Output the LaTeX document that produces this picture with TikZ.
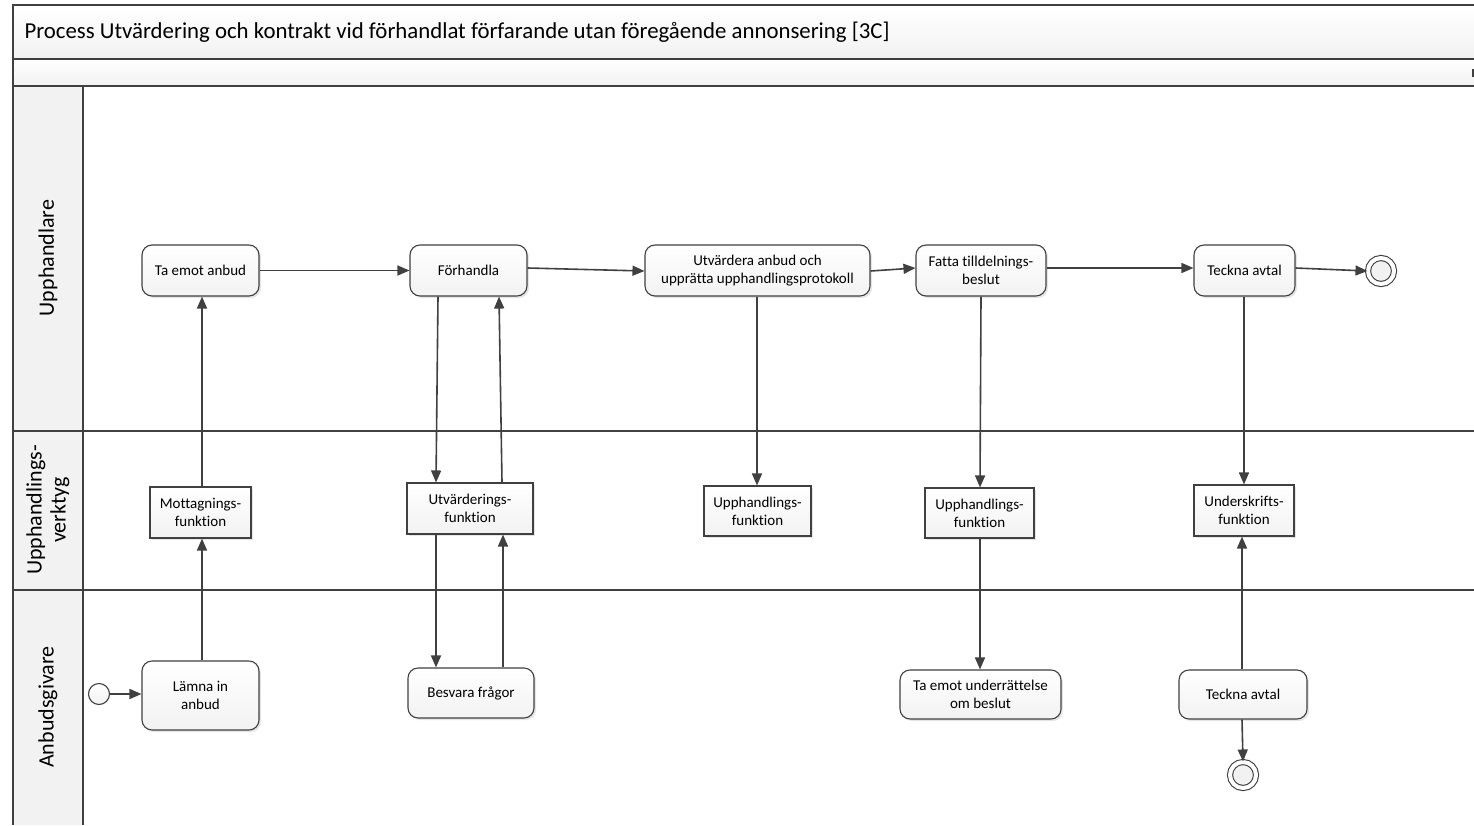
\documentclass[tikz,border=0pt]{standalone}
\usepackage{fontspec}
\setmainfont{Carlito}[Ligatures=NoCommon]
\usetikzlibrary{arrows.meta,shadows}
\definecolor{edge}{HTML}{404040}
\definecolor{band}{HTML}{F2F2F2}
\begin{document}
\begin{tikzpicture}[x=1pt,y=-1pt,
  task/.style={draw=edge, line width=1.1pt, rounded corners=10pt, top color=white, bottom color=band,
    drop shadow={opacity=0.2, shadow xshift=2pt, shadow yshift=-2pt},
    align=center, font=\fontsize{15}{18}\selectfont, inner sep=0pt},
  tool/.style={draw=edge, line width=1.1pt, top color=white, bottom color=band,
    drop shadow={opacity=0.2, shadow xshift=2pt, shadow yshift=-2pt},
    align=center, font=\fontsize{15}{18}\selectfont, inner sep=0pt},
  startev/.style={circle, draw=edge, line width=1.1pt, top color=white, bottom color=band, minimum size=21pt, inner sep=0pt},
  endev/.style={circle, draw=edge, line width=1.1pt, double=white, double distance=4pt, fill=band,
    drop shadow={opacity=0.2, shadow xshift=2pt, shadow yshift=-2pt}, minimum size=26pt, inner sep=0pt},
  flow/.style={draw=edge, line width=1.6pt, -{Triangle[length=12pt,width=10pt]}},
  lanelabel/.style={rotate=90, align=center, font=\fontsize{22}{24}\selectfont}
]
\useasboundingbox (0,0) rectangle (1474,825);
% pool frame, title and header bands
\fill[white] (0,0) rectangle (1474,825);
\shade[top color=white, bottom color=band] (13,5) rectangle (1474,59);
\shade[top color=white, bottom color=band] (13,59) rectangle (1474,86);
\fill[band] (13,86) rectangle (83,825);
\draw[edge, line width=1.6pt] (1474,5) -- (13,5) -- (13,825);
\draw[edge, line width=1.6pt] (13,59) -- (1474,59);
\draw[edge, line width=1.6pt] (13,86) -- (1474,86);
\draw[edge, line width=1.1pt] (83,86) -- (83,825);
\draw[edge, line width=1.1pt] (13,431) -- (1474,431);
\draw[edge, line width=1.1pt] (13,590) -- (1474,590);
\fill[edge] (1472,69) rectangle (1476,77);
\node[anchor=west, font=\fontsize{22.8}{26}\selectfont] (title) at (21,32.5)
  {Process Utvärdering och kontrakt vid förhandlat förfarande utan föregående annonsering [3C]};
% lane labels
\node[lanelabel] (l1) at (48,258) {Upphandlare};
\node[lanelabel] (l2) at (48,510) {Upphandlings-\\verktyg};
\node[lanelabel] (l3) at (48,707) {Anbudsgivare};
% Upphandlare
\node[task, minimum width=117pt, minimum height=51pt] (a1) at (200.5,270.5) {Ta emot anbud};
\node[task, minimum width=117pt, minimum height=51pt] (a2) at (468.5,270.5) {Förhandla};
\node[task, minimum width=225pt, minimum height=51pt] (a3) at (757.5,270.5) {Utvärdera anbud och\\upprätta upphandlingsprotokoll};
\node[task, minimum width=130pt, minimum height=51pt] (a4) at (981,270.5) {Fatta tilldelnings-\\beslut};
\node[task, minimum width=101pt, minimum height=51pt] (a5) at (1244.5,270.5) {Teckna avtal};
\node[endev] (e1) at (1381,271) {};
% Upphandlingsverktyg
\node[tool, minimum width=101pt, minimum height=51pt] (t1) at (200.5,512.5) {Mottagnings-\\funktion};
\node[tool, minimum width=126pt, minimum height=51pt] (t2) at (470,508.5) {Utvärderings-\\funktion};
\node[tool, minimum width=107pt, minimum height=50pt] (t3) at (757.5,511) {Upphandlings-\\funktion};
\node[tool, minimum width=109pt, minimum height=50pt] (t4) at (979.5,513) {Upphandlings-\\funktion};
\node[tool, minimum width=100pt, minimum height=51pt] (t5) at (1244,510.5) {Underskrifts-\\funktion};
% Anbudsgivare
\node[startev] (s0) at (99,694) {};
\node[task, minimum width=117pt, minimum height=69pt] (b1) at (200.5,695.5) {Lämna in\\anbud};
\node[task, minimum width=126pt, minimum height=50pt] (b2) at (471,693) {Besvara frågor};
\node[task, minimum width=161pt, minimum height=49pt] (b3) at (980.5,694.5) {Ta emot underrättelse\\om beslut};
\node[task, minimum width=128pt, minimum height=49pt] (b4) at (1243,694.5) {Teckna avtal};
\node[endev] (e2) at (1243,775) {};
% sequence and message flows
\draw[flow] (a1.east) -- (a2.west);
\draw[flow] (a2.east |- 0,268) -- (a3.west |- 0,271);
\draw[flow] (a3.east |- 0,271) -- (a4.west |- 0,268);
\draw[flow] (a4.east |- 0,268) -- (a5.west |- 0,268);
\draw[flow] (a5.east |- 0,268) -- (e1.west);
\draw[flow] (s0.east) -- (b1.west |- s0.east);
\draw[flow] (b1.north -| 202,0) -- (t1.south -| 202,0);
\draw[flow] (t1.north -| 202,0) -- (a1.south -| 202,0);
\draw[flow] (a2.south -| 438,0) -- (t2.north -| 436,0);
\draw[flow] (t2.north -| 502,0) -- (a2.south -| 499,0);
\draw[flow] (t2.south -| 436,0) -- (b2.north -| 436,0);
\draw[flow] (b2.north -| 503,0) -- (t2.south -| 503,0);
\draw[flow] (a3.south -| 757,0) -- (t3.north -| 757,0);
\draw[flow] (a4.south -| 981,0) -- (t4.north -| 980,0);
\draw[flow] (t4.south -| 980,0) -- (b3.north -| 980,0);
\draw[flow] (a5.south -| 1244,0) -- (t5.north -| 1244,0);
\draw[flow] (b4.north -| 1242,0) -- (t5.south -| 1242,0);
\draw[flow] (b4.south -| 1242,0) -- (e2.north);
\end{tikzpicture}
\end{document}
